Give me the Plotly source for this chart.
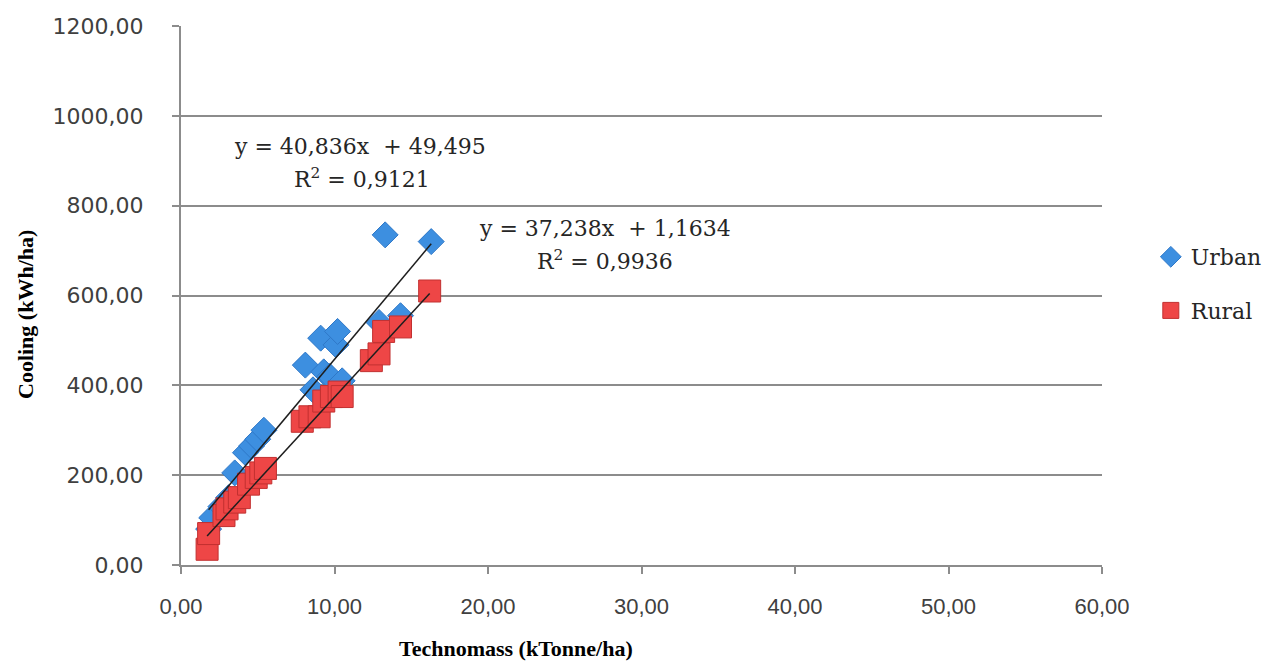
import plotly.graph_objects as go

# Technomass (kTonne/ha) vs cooling demand (kWh/ha)
urban_x = [1.8, 2.0, 2.6, 3.1, 3.5, 4.2, 4.6, 5.0, 5.4, 8.1, 8.6, 9.1, 9.3, 9.7,
           10.1, 10.2, 10.5, 12.9, 13.3, 14.3, 16.3]
urban_y = [80, 105, 130, 150, 205, 250, 265, 280, 300, 445, 390, 505, 430, 420,
           490, 520, 410, 540, 735, 555, 720]

rural_x = [1.7, 1.8, 2.8, 3.0, 3.5, 3.8, 4.4, 4.9, 5.2, 5.5, 7.9, 8.4, 9.0, 9.3,
           9.8, 10.3, 10.5, 12.4, 12.9, 13.2, 14.3, 16.2]
rural_y = [35, 70, 110, 125, 140, 150, 180, 195, 205, 215, 320, 330, 330, 365,
           375, 385, 375, 455, 470, 520, 530, 610]

# Linear trend coefficients (slope, intercept, R²)
urban_fit = (40.836, 49.495, "0,9121")
rural_fit = (37.238, 1.1634, "0,9936")

x_ticks = [0, 10, 20, 30, 40, 50, 60]
y_ticks = [0, 200, 400, 600, 800, 1000, 1200]

L, R, T, B, W, H = 181, 177, 26, 102, 1279, 667
PW, PH = W - L - R, H - T - B


def px(xp):
    return (xp - L) / PW


def py(yp):
    return (H - B - yp) / PH


def trend(xs, fit):
    a, b, _ = fit
    x0, x1 = min(xs), max(xs)
    return [x0, x1], [a * x0 + b, a * x1 + b]


fig = go.Figure()

fig.add_trace(go.Scatter(
    x=urban_x, y=urban_y, mode="markers", name="Urban", legendgroup="u",
    marker=dict(symbol="diamond", size=20, color="#3d8fe0",
                line=dict(color="#2f78c8", width=1)),
))
fig.add_trace(go.Scatter(
    x=rural_x, y=rural_y, mode="markers", name="Rural", legendgroup="r",
    marker=dict(symbol="square", size=22, color="#ee4646",
                line=dict(color="#c23030", width=1)),
))

for xs, fit in ((urban_x, urban_fit), (rural_x, rural_fit)):
    tx, ty = trend(xs, fit)
    fig.add_trace(go.Scatter(x=tx, y=ty, mode="lines", showlegend=False,
                             line=dict(color="#1e1e1e", width=1.5),
                             hoverinfo="skip"))

eq_font = dict(family="DejaVu Serif", size=22, color="#262626")


def fmt(v):
    s = f"{v:.4f}".rstrip("0").rstrip(".")
    return s.replace(".", ",")


annos = [
    (360, 146, f"y = {fmt(urban_fit[0])}x  + {fmt(urban_fit[1])}"),
    (362, 178, f"R<sup>2</sup> = {urban_fit[2]}"),
    (605, 228, f"y = {fmt(rural_fit[0])}x  + {fmt(rural_fit[1])}"),
    (605, 260, f"R<sup>2</sup> = {rural_fit[2]}"),
]
for ax_, ay_, txt in annos:
    fig.add_annotation(x=px(ax_), y=py(ay_), xref="paper", yref="paper",
                       text=txt, showarrow=False, font=eq_font,
                       xanchor="center", yanchor="middle")

title_font = dict(family="Liberation Serif", size=22, color="#000000",
                  weight="bold")
fig.add_annotation(x=px(516), y=py(648), xref="paper", yref="paper",
                   text="Technomass (kTonne/ha)", showarrow=False,
                   font=title_font, xanchor="center", yanchor="middle")
fig.add_annotation(x=px(25), y=py(315), xref="paper", yref="paper",
                   text="Cooling (kWh/ha)", showarrow=False, textangle=-90,
                   font=title_font, xanchor="center", yanchor="middle")

fig.update_layout(
    width=W, height=H,
    margin=dict(l=L, r=R, t=T, b=B, pad=0, autoexpand=False),
    paper_bgcolor="white", plot_bgcolor="white",
    separators=",.",
    showlegend=True,
    legend=dict(x=1.053, y=py(284), xanchor="left", yanchor="middle",
                font=dict(family="DejaVu Serif", size=22, color="#262626"),
                tracegroupgap=22, itemwidth=30, bgcolor="rgba(0,0,0,0)"),
    xaxis=dict(range=[0, 60], tickvals=x_ticks, tickformat=".2f",
               showgrid=False, zeroline=False,
               showline=True, linecolor="#8c8c8c", linewidth=2,
               ticks="outside", ticklen=7, tickcolor="#8c8c8c", tickwidth=2,
               ticklabelstandoff=14,
               tickfont=dict(family="Liberation Sans", size=22,
                             color="#404040")),
    yaxis=dict(range=[0, 1200], tickvals=y_ticks, tickformat=".2f",
               showgrid=True, gridcolor="#8c8c8c", gridwidth=2,
               zeroline=False,
               showline=True, linecolor="#8c8c8c", linewidth=2,
               ticks="outside", ticklen=7, tickcolor="#8c8c8c", tickwidth=2,
               ticklabelstandoff=24,
               tickfont=dict(family="DejaVu Sans", size=22, color="#404040")),
)

fig.write_html("out.html")
